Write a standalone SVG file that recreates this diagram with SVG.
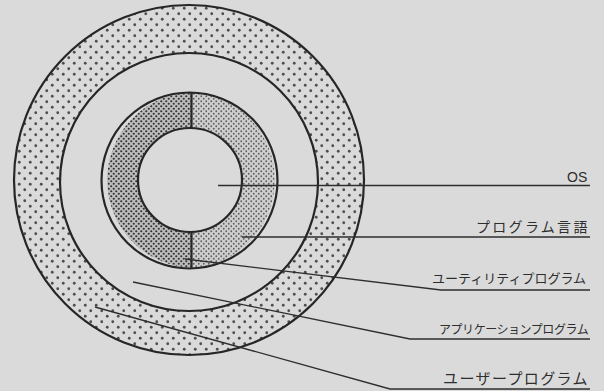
<svg xmlns="http://www.w3.org/2000/svg" width="604" height="391" viewBox="0 0 604 391">
  <defs>
    <pattern id="dotsOuter" width="11" height="11" patternUnits="userSpaceOnUse">
      <rect width="11" height="11" fill="#dadada"/>
      <circle cx="2.75" cy="2.75" r="1.4" fill="#4e4e4e"/>
      <circle cx="8.25" cy="8.25" r="1.4" fill="#4e4e4e"/>
    </pattern>
    <pattern id="dotsDark" width="5" height="5" patternUnits="userSpaceOnUse">
      <rect width="5" height="5" fill="#bdbdbd"/>
      <circle cx="1.25" cy="1.25" r="1.1" fill="#333333"/>
      <circle cx="3.75" cy="3.75" r="1.1" fill="#333333"/>
    </pattern>
    <pattern id="dotsLight" width="5" height="5" patternUnits="userSpaceOnUse">
      <rect width="5" height="5" fill="#cecece"/>
      <circle cx="1.25" cy="1.25" r="0.9" fill="#5e5e5e"/>
      <circle cx="3.75" cy="3.75" r="0.9" fill="#5e5e5e"/>
    </pattern>
  </defs>
  <style>
    .ring { fill: none; stroke: #262626; stroke-width: 2.2; }
    .conn { fill: none; stroke: #2e2e2e; stroke-width: 1.3; }
    .lbl { font-family: "Noto Sans CJK JP", "Noto Sans", sans-serif; fill: #2e2e2e; }
  </style>
  <rect width="604" height="391" fill="#dadada"/>

  <g id="user-program">
    <path fill="url(#dotsOuter)" fill-rule="evenodd"
      d="M14,180 a175,175 0 1,0 350,0 a175,175 0 1,0 -350,0 Z M60,182 a129,129 0 1,0 258,0 a129,129 0 1,0 -258,0 Z"/>
    <circle cx="189" cy="180" r="175" class="ring"/>
  </g>

  <g id="application-program">
    <circle cx="189" cy="182" r="129" class="ring"/>
  </g>

  <g id="utility-program">
    <path fill="url(#dotsDark)" d="M191,92.1 A88,88 0 0,0 191,267.9 L191,232 A52,52 0 0,1 191,128 Z"/>
  </g>

  <g id="program-language">
    <path fill="url(#dotsLight)" d="M191,92.1 A88,88 0 0,1 191,267.9 L191,232 A52,52 0 0,0 191,128 Z"/>
  </g>

  <g id="os">
    <circle cx="190" cy="180" r="52" fill="#dadada" class="ring" style="fill:#dadada"/>
  </g>

  <g id="inner-ring-outline">
    <circle cx="189.5" cy="180.5" r="88" class="ring"/>
    <line x1="191.5" y1="92" x2="191.5" y2="128" class="ring"/>
    <line x1="191.5" y1="232" x2="191.5" y2="269" class="ring"/>
  </g>

  <g id="connectors">
    <polyline class="conn" points="218,185.5 590,185.5"/>
    <polyline class="conn" points="242,237 590,237"/>
    <polyline class="conn" points="185,259 441,290 590,290"/>
    <polyline class="conn" points="133,282 410,339 590,339"/>
    <polyline class="conn" points="95,307 390,389 590,389"/>
  </g>

  <g id="labels">
    <text x="567" y="182" font-family="Liberation Sans, Arial, sans-serif" font-size="14" fill="#2e2e2e">OS</text>
    <text class="lbl" x="476" y="232" font-size="14" letter-spacing="2.3">プログラム言語</text>
    <text class="lbl" x="432" y="283" font-size="13">ユーティリティプログラム</text>
    <text class="lbl" x="439" y="334" font-size="12" letter-spacing="-0.45">アプリケーションプログラム</text>
    <text class="lbl" x="443" y="384" font-size="15" letter-spacing="1.4">ユーザープログラム</text>
  </g>
</svg>
